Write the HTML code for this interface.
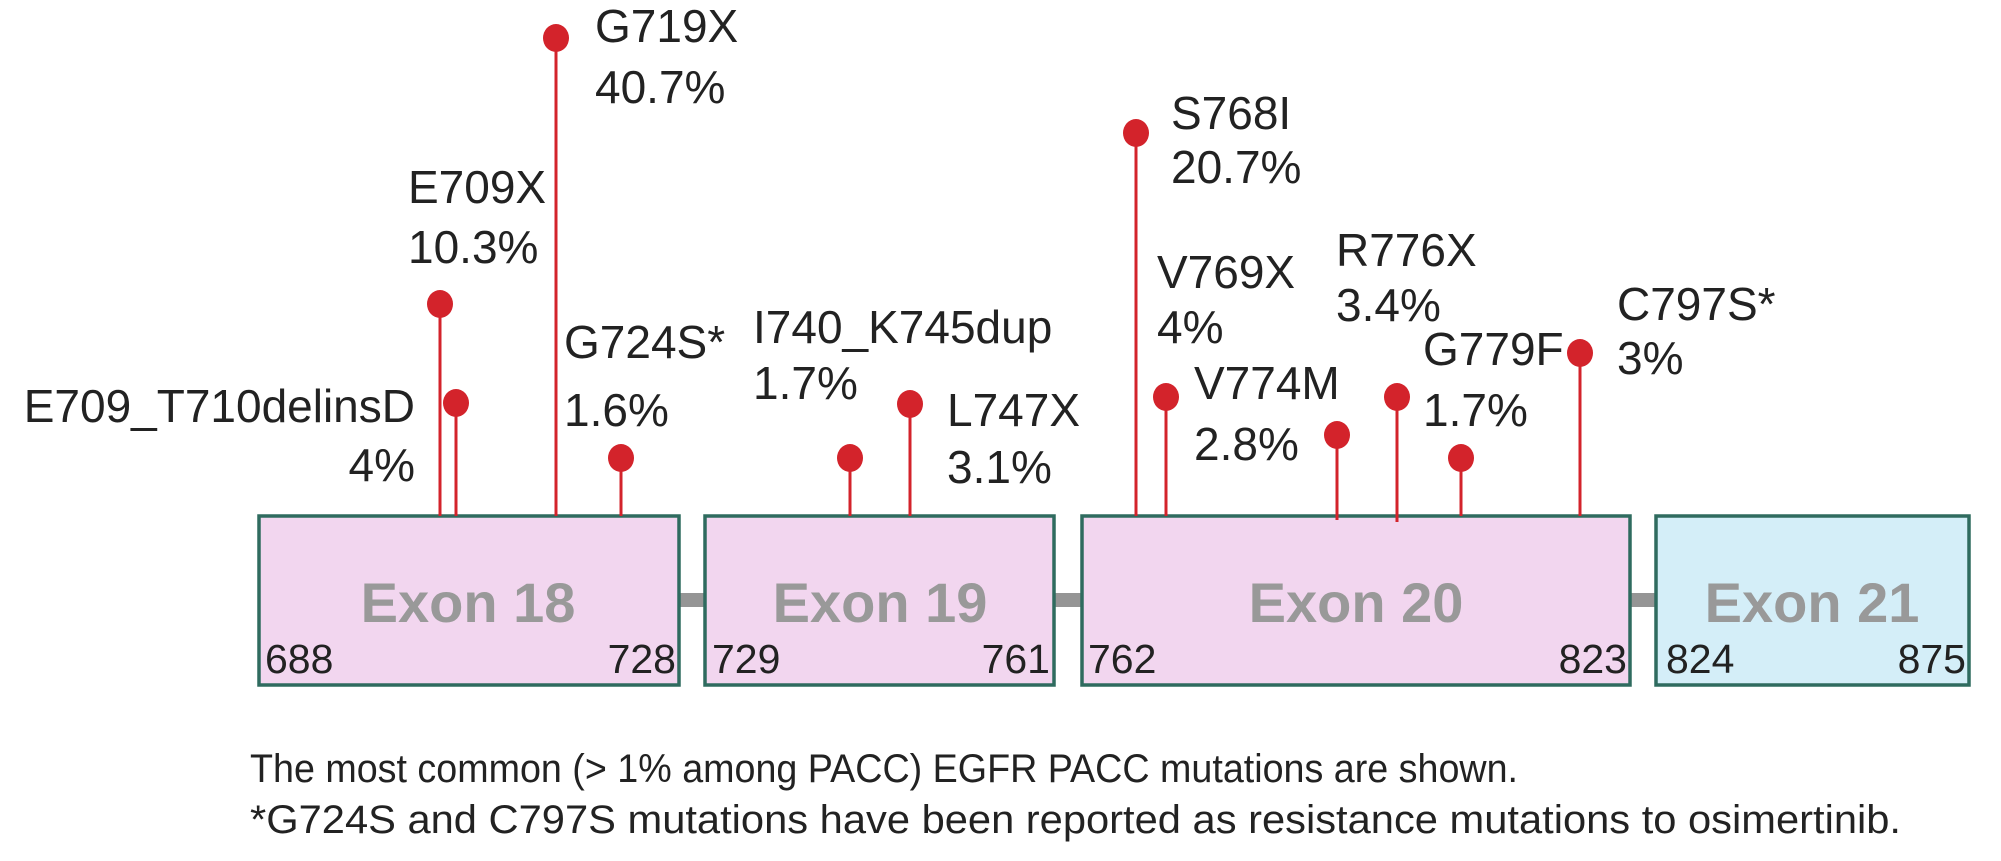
<!DOCTYPE html>
<html><head><meta charset="utf-8"><style>
html,body{margin:0;padding:0;background:#fff;}
svg{display:block;}
text{font-family:"Liberation Sans",Arial,sans-serif;}
</style></head><body>
<svg width="2001" height="861" viewBox="0 0 2001 861" xmlns="http://www.w3.org/2000/svg">
<rect width="2001" height="861" fill="#fff"/>
<g fill="#959595">
<rect x="679" y="593" width="25" height="14"/>
<rect x="1054" y="593" width="27" height="14"/>
<rect x="1630" y="593" width="25" height="14"/>
</g>
<g stroke="#2f6b5f" stroke-width="3.5">
<rect x="259" y="516" width="420" height="169" fill="#f2d6ef"/>
<rect x="705" y="516" width="349" height="169" fill="#f2d6ef"/>
<rect x="1082" y="516" width="548" height="169" fill="#f2d6ef"/>
<rect x="1656" y="516" width="313" height="169" fill="#d4eef8"/>
</g>
<g font-weight="bold" font-size="56" fill="#999" text-anchor="middle">
<text x="468" y="622">Exon 18</text>
<text x="880" y="622">Exon 19</text>
<text x="1356" y="622">Exon 20</text>
<text x="1812" y="622">Exon 21</text>
</g>
<g font-size="41" fill="#222">
<text x="265" y="673">688</text>
<text x="676" y="673" text-anchor="end">728</text>
<text x="712" y="673">729</text>
<text x="1050" y="673" text-anchor="end">761</text>
<text x="1088" y="673">762</text>
<text x="1627" y="673" text-anchor="end">823</text>
<text x="1666" y="673">824</text>
<text x="1966" y="673" text-anchor="end">875</text>
</g>
<g stroke="#d3232b" stroke-width="3">
<line x1="556" y1="38" x2="556" y2="516"/>
<line x1="440" y1="304" x2="440" y2="516"/>
<line x1="456" y1="403" x2="456" y2="516"/>
<line x1="621" y1="458" x2="621" y2="516"/>
<line x1="850" y1="458" x2="850" y2="516"/>
<line x1="910" y1="404" x2="910" y2="516"/>
<line x1="1136" y1="133" x2="1136" y2="516"/>
<line x1="1166" y1="397" x2="1166" y2="516"/>
<line x1="1337" y1="435" x2="1337" y2="520"/>
<line x1="1397" y1="397" x2="1397" y2="522"/>
<line x1="1461" y1="458" x2="1461" y2="516"/>
<line x1="1580" y1="353" x2="1580" y2="516"/>
</g>
<g fill="#d3232b">
<ellipse cx="556" cy="38" rx="13" ry="14"/>
<ellipse cx="440" cy="304" rx="13" ry="14"/>
<ellipse cx="456" cy="403" rx="13" ry="14"/>
<ellipse cx="621" cy="458" rx="13" ry="14"/>
<ellipse cx="850" cy="458" rx="13" ry="14"/>
<ellipse cx="910" cy="404" rx="13" ry="14"/>
<ellipse cx="1136" cy="133" rx="13" ry="14"/>
<ellipse cx="1166" cy="397" rx="13" ry="14"/>
<ellipse cx="1337" cy="435" rx="13" ry="14"/>
<ellipse cx="1397" cy="397" rx="13" ry="14"/>
<ellipse cx="1461" cy="458" rx="13" ry="14"/>
<ellipse cx="1580" cy="353" rx="13" ry="14"/>
</g>
<g font-size="46" fill="#222">
<text x="595" y="42">G719X</text><text x="595" y="103">40.7%</text>
<text x="408" y="203">E709X</text><text x="408" y="263">10.3%</text>
<text x="415" y="422" text-anchor="end">E709_T710delinsD</text><text x="415" y="481" text-anchor="end">4%</text>
<text x="564" y="358">G724S*</text><text x="564" y="426">1.6%</text>
<text x="753" y="343">I740_K745dup</text><text x="753" y="399">1.7%</text>
<text x="947" y="426">L747X</text><text x="947" y="483">3.1%</text>
<text x="1171" y="129">S768I</text><text x="1171" y="183">20.7%</text>
<text x="1157" y="288">V769X</text><text x="1157" y="343">4%</text>
<text x="1194" y="399">V774M</text><text x="1194" y="460">2.8%</text>
<text x="1336" y="266">R776X</text><text x="1336" y="321">3.4%</text>
<text x="1423" y="365">G779F</text><text x="1423" y="426">1.7%</text>
<text x="1617" y="320">C797S*</text><text x="1617" y="374">3%</text>
</g>
<g font-size="40" fill="#222">
<text x="250" y="782" textLength="1268" lengthAdjust="spacingAndGlyphs">The most common (&gt; 1% among PACC) EGFR PACC mutations are shown.</text>
<text x="250" y="833" textLength="1651" lengthAdjust="spacingAndGlyphs">*G724S and C797S mutations have been reported as resistance mutations to osimertinib.</text>
</g>
</svg>
</body></html>
